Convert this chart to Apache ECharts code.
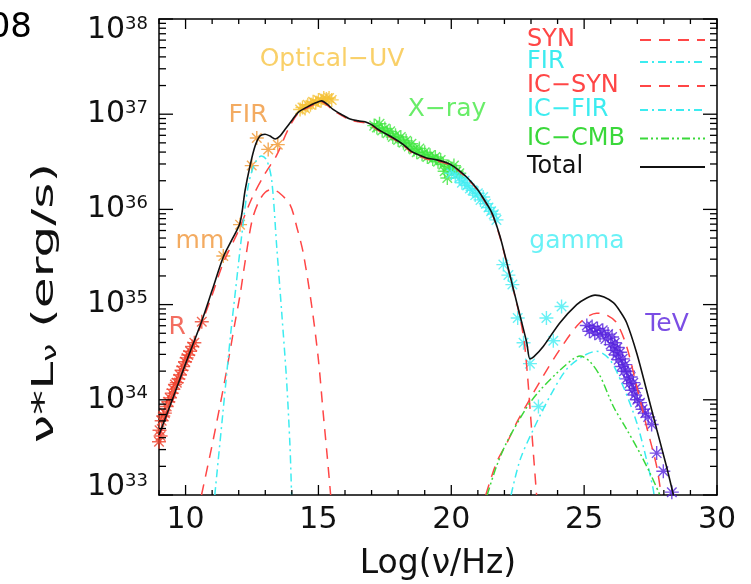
<!DOCTYPE html>
<html>
<head>
<meta charset="utf-8">
<script src="https://cdn.jsdelivr.net/npm/echarts@6/dist/echarts.min.js"></script>
<style>html,body{margin:0;padding:0;background:#fff}#c{position:absolute;left:0;top:0;width:751px;height:584px}#t{position:absolute;left:0;top:0;width:751px;height:584px;pointer-events:none}</style>
</head>
<body>
<div id="c"></div>
<div id="t"></div>
<script>
// ---- data: x = log10(nu/Hz), y = log10(nu*L_nu / erg s^-1) ----
const xTickLabels = [10, 15, 20, 25, 30];
const yTickLabels = [33, 34, 35, 36, 37, 38];

const totalCurve = [[9.0,33.63],[9.5,34.0],[10.0,34.38],[10.6,34.82],[11.0,35.15],[11.42,35.5],[11.74,35.68],[12.05,35.86],[12.24,36.2],[12.42,36.45],[12.61,36.66],[12.8,36.77],[12.99,36.79],[13.18,36.77],[13.37,36.74],[13.55,36.77],[13.74,36.84],[13.99,36.93],[14.24,37.02],[14.6,37.08],[14.9,37.12],[15.12,37.14],[15.35,37.1],[15.55,37.05],[15.85,37.0],[16.19,36.95],[16.5,36.93],[16.75,36.92],[17.0,36.89],[17.19,36.85],[17.5,36.8],[17.82,36.75],[18.2,36.68],[18.5,36.61],[18.8,36.57],[19.07,36.54],[19.45,36.52],[19.83,36.49],[20.1,36.45],[20.33,36.4],[20.65,36.32],[20.96,36.22],[21.2,36.12],[21.46,36.0],[21.58,35.93],[21.83,35.72],[22.09,35.44],[22.34,35.16],[22.59,34.88],[22.84,34.6],[22.96,34.43],[23.1,34.45],[23.46,34.56],[24.09,34.81],[24.72,35.0],[25.1,35.07],[25.41,35.1],[25.75,35.08],[26.1,35.02],[26.35,34.93],[26.6,34.81],[26.98,34.49],[27.35,34.1],[27.73,33.69],[28.1,33.3],[28.36,33.0]];

const synCurve = [[9.0,33.6],[9.5,33.98],[10.0,34.36],[10.6,34.8],[11.0,35.1],[11.42,35.44],[12.0,35.78],[12.5,36.12],[13.0,36.38],[13.43,36.57],[13.86,36.84],[14.24,37.01],[14.6,37.07],[14.9,37.11],[15.12,37.13],[15.35,37.09],[15.55,37.04],[15.85,36.99],[16.19,36.94],[16.5,36.92],[16.75,36.91],[17.0,36.88],[17.19,36.84],[17.5,36.79],[17.82,36.74],[18.2,36.67],[18.5,36.6],[18.8,36.56],[19.07,36.53],[19.45,36.51],[19.83,36.48],[20.1,36.44],[20.33,36.39],[20.65,36.31],[20.96,36.21],[21.2,36.11],[21.46,35.99],[21.58,35.92],[21.83,35.71],[22.09,35.43],[22.34,35.15],[22.59,34.86],[22.75,34.6],[22.87,34.25],[22.98,33.85],[23.1,33.4],[23.21,33.0]];

const syn2Curve = [[10.6,33.0],[11.04,33.58],[11.48,34.21],[11.86,34.81],[12.05,35.1],[12.24,35.45],[12.5,35.88],[12.75,36.08],[13.0,36.18],[13.24,36.21],[13.5,36.18],[13.93,36.05],[14.2,35.8],[14.43,35.54],[14.75,34.98],[15.0,34.42],[15.18,33.86],[15.33,33.41],[15.46,33.0]];

const firCurve = [[11.1,33.0],[11.4,33.85],[11.7,34.7],[11.9,35.2],[12.11,35.72],[12.36,36.25],[12.6,36.48],[12.85,36.56],[13.05,36.52],[13.24,36.31],[13.43,35.61],[13.62,34.91],[13.8,34.21],[13.93,33.51],[13.99,33.0]];

const icSynCurve = [[21.3,33.0],[21.7,33.34],[22.1,33.55],[22.46,33.76],[22.84,33.95],[23.46,34.25],[24.09,34.53],[24.84,34.81],[25.47,34.91],[25.85,34.89],[26.22,34.81],[26.6,34.56],[26.98,34.14],[27.35,33.72],[27.73,33.3],[27.9,33.0]];

const icFirCurve = [[22.25,33.0],[22.59,33.37],[23.09,33.69],[23.72,34.04],[24.34,34.32],[24.97,34.46],[25.47,34.51],[25.97,34.42],[26.47,34.14],[26.98,33.76],[27.35,33.37],[27.6,33.06],[27.63,33.0]];

const icCmbCurve = [[21.35,33.0],[21.7,33.3],[22.08,33.55],[22.84,33.92],[23.34,34.1],[23.97,34.28],[24.59,34.43],[24.85,34.46],[25.22,34.4],[25.6,34.25],[26.1,33.93],[26.6,33.69],[27.1,33.44],[27.48,33.23],[27.85,33.0]];

const radioPts = [[9.0,33.56],[9.02,33.68],[9.06,33.62],[9.1,33.78],[9.16,33.83],[9.22,33.86],[9.29,33.93],[9.35,33.98],[9.41,34.02],[9.48,34.07],[9.54,34.11],[9.6,34.16],[9.67,34.18],[9.73,34.22],[9.79,34.26],[9.85,34.31],[9.91,34.35],[9.98,34.4],[10.04,34.44],[10.1,34.47],[10.17,34.51],[10.25,34.56],[10.33,34.6],[10.61,34.82]];
const firPts = [[11.42,35.51],[12.05,35.84],[12.49,36.46],[12.68,36.75],[13.11,36.63],[13.47,36.68]];
const opticalPts = [[14.31,37.05],[14.4,37.07],[14.5,37.06],[14.6,37.1],[14.7,37.1],[14.8,37.13],[14.9,37.12],[15.0,37.15],[15.1,37.14],[15.2,37.17],[15.3,37.16],[15.4,37.17],[15.5,37.15]];
const xrayPts = [[17.1,36.88],[17.2,36.86],[17.3,36.9],[17.4,36.83],[17.5,36.85],[17.6,36.8],[17.7,36.82],[17.8,36.76],[17.9,36.78],[18.0,36.73],[18.1,36.76],[18.2,36.7],[18.3,36.72],[18.4,36.66],[18.5,36.69],[18.6,36.63],[18.7,36.6],[18.8,36.64],[18.9,36.58],[19.0,36.6],[19.1,36.55],[19.2,36.57],[19.3,36.53],[19.4,36.55],[19.5,36.5],[19.6,36.52],[19.7,36.47],[19.75,36.4],[19.85,36.33],[19.9,36.45],[20.0,36.43],[20.1,36.46],[20.2,36.4],[20.3,36.38]];
const gammaPts = [[20.0,36.38],[20.15,36.36],[20.3,36.33],[20.4,36.28],[20.5,36.3],[20.6,36.25],[20.7,36.22],[20.8,36.2],[20.9,36.15],[21.0,36.17],[21.1,36.1],[21.2,36.13],[21.3,36.06],[21.4,36.02],[21.5,35.98],[21.6,35.95],[21.7,35.89],[21.96,35.42],[22.15,35.31],[22.3,35.21],[22.5,34.86],[22.72,34.6],[22.96,34.38],[23.28,33.93],[23.58,34.86],[23.84,34.62],[24.15,34.98]];
const tevPts = [[25.1,34.78],[25.2,34.72],[25.3,34.77],[25.4,34.7],[25.5,34.75],[25.6,34.68],[25.7,34.73],[25.8,34.64],[25.9,34.69],[26.0,34.58],[26.05,34.66],[26.1,34.52],[26.15,34.6],[26.2,34.47],[26.25,34.55],[26.3,34.42],[26.35,34.5],[26.4,34.35],[26.45,34.43],[26.5,34.3],[26.55,34.37],[26.6,34.22],[26.65,34.3],[26.7,34.17],[26.75,34.24],[26.8,34.1],[26.85,34.18],[26.9,34.05],[26.95,34.12],[27.0,34.0],[27.1,33.97],[27.2,33.9],[27.3,33.86],[27.41,33.82],[27.54,33.74],[27.73,33.44],[27.98,33.25],[28.3,33.03]];

const annotations = [[15.51,37.57,'Optical−UV'],[12.35,36.99,'FIR'],[10.54,35.66,'mm'],[9.68,34.76,'R'],[19.84,37.05,'X−ray'],[24.73,35.66,'gamma'],[28.12,34.79,'TeV']];
const annotationColors = ['#f7c444','#f0963a','#f0963a','#f04a3a','#44e844','#44eef4','#5a22dd'];

// ---- axis tick positions ----
const xMajor = [10, 15, 20, 25, 30];
const xMinor = []; for (let v = 9; v <= 30; v++) if (xMajor.indexOf(v) < 0) xMinor.push(v);
const yMajor = [33, 34, 35, 36, 37, 38];
const yMinor = []; for (let n = 33; n < 38; n++) for (let k = 2; k <= 9; k++) yMinor.push(n + Math.log10(k));

// side: 0 bottom, 1 top, 2 left, 3 right ; flag: 1 major, 0 minor
const tickItems = [];
xMajor.forEach(v => { tickItems.push([v, 33, 0, 1]); tickItems.push([v, 38, 1, 1]); });
xMinor.forEach(v => { tickItems.push([v, 33, 0, 0]); tickItems.push([v, 38, 1, 0]); });
yMajor.forEach(v => { tickItems.push([9, v, 2, 1]); tickItems.push([30, v, 3, 1]); });
yMinor.forEach(v => { tickItems.push([9, v, 2, 0]); tickItems.push([30, v, 3, 0]); });

// ---- styles ----
const FONT = 'DejaVu Sans';
const RED = '#ff4646', CYAN = '#3cecf0', GREEN = '#3ad83a', BLACK = '#111';
const STAR = 'path://M0,5L10,5M5,0L5,10M1.6,1.6L8.4,8.4M8.4,1.6L1.6,8.4';
const TICK_LEN = { x: [5, 10], y: [7, 14] };

const axisLineStyle = { show: true, onZero: false, lineStyle: { color: '#000', width: 1.5 } };
const GRID = { left: 159, right: 34, top: 19, bottom: 89, outerBoundsMode: 'none' };

const lineSeries = (name, data, color, type, width, z) => ({
  name, type: 'line', data, symbol: 'none', smooth: 0.3, z: z || 3,
  lineStyle: { color, type, width }, itemStyle: { color }
});
const starSeries = (data, color) => ({
  type: 'scatter', data, symbol: STAR, symbolSize: 14, z: 2,
  itemStyle: { color: color, borderColor: color, borderWidth: 1.4 }
});

const legendDefs = [
  ['SYN', RED, 40], ['FIR', CYAN, 62], ['IC−SYN', RED, 86],
  ['IC−FIR', CYAN, 110], ['IC−CMB', GREEN, 138.5], ['Total', BLACK, 167]
];

const labelRich = {
  b: { fontFamily: FONT, fontSize: 30, color: '#111', lineHeight: 30, verticalAlign: 'bottom' },
  s: { fontFamily: FONT, fontSize: 18, color: '#111', lineHeight: 12, verticalAlign: 'top' },
  g22: { fontSize: 10, lineHeight: 22 },
  g16: { fontSize: 10, lineHeight: 16 }
};

// ===== main chart =====
const chart = echarts.init(document.getElementById('c'), null, { renderer: 'canvas' });
chart.setOption({
  animation: false,
  backgroundColor: '#fff',
  grid: GRID,
  xAxis: [
    {
      type: 'value', min: 9, max: 30, position: 'bottom',
      axisLine: axisLineStyle, axisTick: { show: false }, splitLine: { show: false },
      axisLabel: { show: true, customValues: xTickLabels, margin: 10, color: '#111', fontFamily: FONT, fontSize: 30 },
      name: 'Log(ν/Hz)', nameLocation: 'middle', nameGap: 53,
      nameTextStyle: { color: '#111', fontFamily: FONT, fontSize: 33 }
    },
    { type: 'value', min: 9, max: 30, position: 'top', axisLine: axisLineStyle, axisTick: { show: false }, axisLabel: { show: false }, splitLine: { show: false } }
  ],
  yAxis: [
    {
      type: 'value', min: 33, max: 38, position: 'left',
      axisLine: axisLineStyle, axisTick: { show: false }, splitLine: { show: false },
      axisLabel: {
        show: true, customValues: yTickLabels, margin: 11,
        formatter: v => v === 38 ? '{g22| }\n{b|10}{s|38}' : (v === 33 ? '{b|10}{s|33}\n{g16| }' : '{b|10}{s|' + v + '}'),
        rich: labelRich
      }
    },
    { type: 'value', min: 33, max: 38, position: 'right', axisLine: axisLineStyle, axisTick: { show: false }, axisLabel: { show: false }, splitLine: { show: false } }
  ],
  legend: legendDefs.map(([name, col, yc]) => ({
    data: [name], left: 527, top: yc - 12, align: 'right', selectedMode: false,
    itemWidth: 65, itemHeight: 12, padding: 0,
    itemStyle: { opacity: 0 },
    formatter: '{t|{name}}',
    textStyle: { rich: { t: { width: 108, align: 'left', fontFamily: FONT, fontSize: 24, lineHeight: 24, color: col } } }
  })),
  series: [
    starSeries(radioPts, '#f0402a'),
    starSeries(firPts, '#f0962e'),
    starSeries(opticalPts, '#f5c133'),
    starSeries(xrayPts, '#3ee63e'),
    starSeries(gammaPts, '#44eef2'),
    starSeries(tevPts, '#5522dd'),
    lineSeries('SYN', synCurve, RED, [11, 8], 1.5),
    lineSeries('SYN-2', syn2Curve, RED, [11, 8], 1.5),
    lineSeries('FIR', firCurve, CYAN, [8, 4, 2, 4], 1.5),
    lineSeries('IC−SYN', icSynCurve, RED, [11, 8], 1.5),
    lineSeries('IC−FIR', icFirCurve, CYAN, [8, 4, 2, 4], 1.5),
    lineSeries('IC−CMB', icCmbCurve, GREEN, [8, 3, 2, 3, 2, 3], 1.5),
    lineSeries('Total', totalCurve, BLACK, 'solid', 1.6, 4),
    {
      type: 'scatter', z: 5, clip: false, symbolSize: 1, silent: true,
      itemStyle: { color: 'transparent' },
      data: annotations.map((a, i) => ({
        value: [a[0], a[1]],
        label: { show: true, position: 'inside', formatter: a[2], color: annotationColors[i], fontFamily: FONT, fontSize: 25 }
      }))
    }
  ],
  graphic: [
    { id: 'fig', type: 'text', silent: true,
      style: { text: '08', x: 32, y: 28, align: 'right', verticalAlign: 'middle', font: '34px "' + FONT + '"', fill: '#000' } },
    { id: 'ytitle', type: 'text', silent: true, x: 45, y: 303, rotation: Math.PI / 2, scaleX: 1.62,
      style: {
        text: '{a|ν*L}{u|ν}{a| (erg/s)}', align: 'center', verticalAlign: 'middle',
        rich: {
          a: { fontFamily: FONT, fontSize: 31, fill: '#111' },
          u: { fontFamily: FONT, fontSize: 20, fill: '#111', verticalAlign: 'bottom', lineHeight: 26 }
        }
      } }
  ]
});

// ===== tick layer: a transparent chart with the same grid and axes, stacked on top =====
const tickChart = echarts.init(document.getElementById('t'), null, { renderer: 'canvas' });
tickChart.setOption({
  animation: false,
  grid: GRID,
  xAxis: [
    { type: 'value', min: 9, max: 30, position: 'bottom', axisLine: { show: false }, axisTick: { show: false }, axisLabel: { show: false }, splitLine: { show: false } },
    { type: 'value', min: 9, max: 30, position: 'top', axisLine: { show: false }, axisTick: { show: false }, axisLabel: { show: false }, splitLine: { show: false } }
  ],
  yAxis: [
    { type: 'value', min: 33, max: 38, position: 'left', axisLine: { show: false }, axisTick: { show: false }, axisLabel: { show: false }, splitLine: { show: false } },
    { type: 'value', min: 33, max: 38, position: 'right', axisLine: { show: false }, axisTick: { show: false }, axisLabel: { show: false }, splitLine: { show: false } }
  ],
  series: [{ type: 'line', data: [], symbol: 'none' }]
});
const tickGraphics = tickItems.map((t, i) => {
  const p = tickChart.convertToPixel({ xAxisIndex: 0, yAxisIndex: 0 }, [t[0], t[1]]);
  const len = (t[2] < 2 ? TICK_LEN.x : TICK_LEN.y)[t[3]];
  let x2 = p[0], y2 = p[1];
  if (t[2] === 0) y2 -= len; else if (t[2] === 1) y2 += len; else if (t[2] === 2) x2 += len; else x2 -= len;
  return { id: 'tick' + i, type: 'line', silent: true, z: 10,
    shape: { x1: p[0], y1: p[1], x2: x2, y2: y2 }, style: { stroke: '#000', lineWidth: 1.3 } };
});
tickChart.setOption({ graphic: tickGraphics });
</script>
</body>
</html>
